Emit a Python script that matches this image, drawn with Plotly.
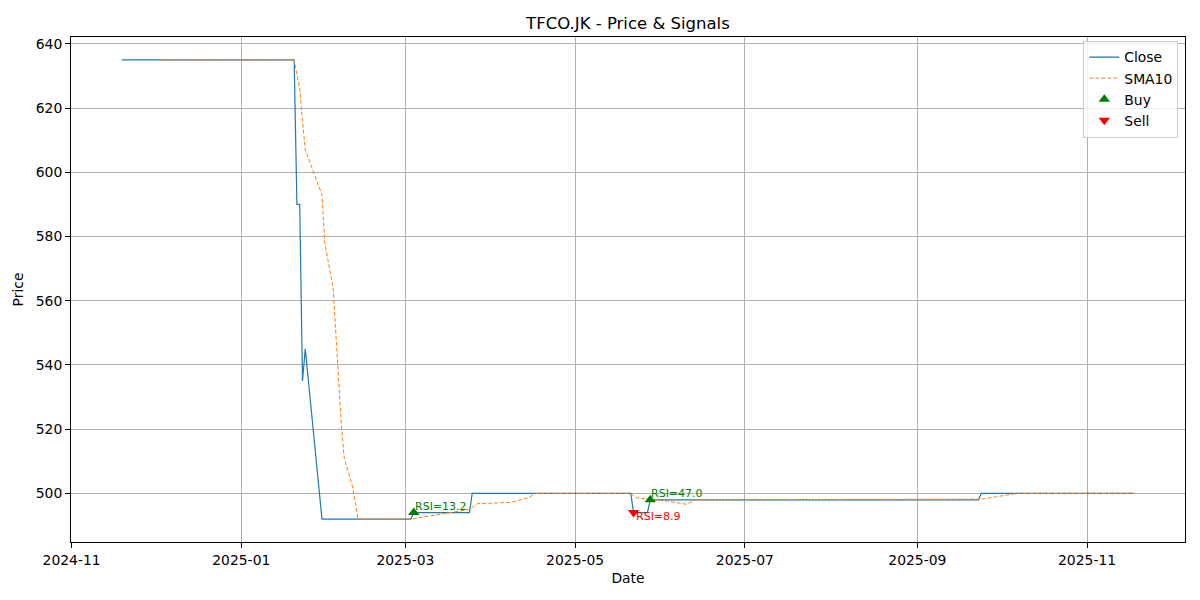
import plotly.graph_objects as go

# Close price, vertices where the price changes (flat stretches in between)
close_dates = ["2024-11-19", "2025-01-20", "2025-01-21", "2025-01-22", "2025-01-23",
               "2025-01-24", "2025-01-30", "2025-03-03", "2025-03-04", "2025-03-24",
               "2025-03-25", "2025-05-21", "2025-05-22", "2025-05-27", "2025-05-28",
               "2025-09-23", "2025-09-24", "2025-11-18"]
close_vals = [635, 635, 590, 590, 535, 545, 492, 492, 494, 494,
              500, 500, 494, 494, 498, 498, 500, 500]

# SMA10
sma_dates = ["2024-12-03", "2025-01-20", "2025-01-21", "2025-01-22", "2025-01-23",
             "2025-01-24", "2025-01-30", "2025-01-31", "2025-02-03", "2025-02-04",
             "2025-02-05", "2025-02-06", "2025-02-07", "2025-02-10", "2025-02-11",
             "2025-02-12", "2025-03-03", "2025-03-17", "2025-03-24", "2025-03-26",
             "2025-03-27", "2025-04-08", "2025-04-10", "2025-04-14", "2025-04-17",
             "2025-05-21", "2025-05-22", "2025-05-23", "2025-05-27", "2025-06-03",
             "2025-06-10", "2025-06-13", "2025-06-16", "2025-09-23", "2025-09-24",
             "2025-10-07", "2025-11-18"]
sma_vals = [635, 635, 630.5, 626, 616, 607, 593, 578, 564, 550,
            535, 521, 511, 502, 497, 492, 492, 494, 495, 496.3,
            496.8, 497.2, 497.6, 498.6, 500, 500, 499.3, 498.7, 498.2, 497.6,
            496.6, 497.9, 498, 498, 498.2, 500, 500]

# Signals
buy_dates = ["2025-03-04", "2025-05-28"]
buy_prices = [494, 498]
buy_rsi = [13.2, 47.0]

sell_dates = ["2025-05-22"]
sell_prices = [494]
sell_rsi = [8.9]

FONT = "DejaVu Sans"

fig = go.Figure()

fig.add_trace(go.Scatter(
    x=close_dates, y=close_vals, mode="lines", name="Close",
    line=dict(color="#1f77b4", width=1.2)
))
fig.add_trace(go.Scatter(
    x=sma_dates, y=sma_vals, mode="lines", name="SMA10",
    line=dict(color="#ff7f0e", width=1, dash="4px,2px")
))
fig.add_trace(go.Scatter(
    x=buy_dates, y=buy_prices, mode="markers", name="Buy",
    marker=dict(symbol="triangle-up", color="green", size=10)
))
fig.add_trace(go.Scatter(
    x=sell_dates, y=sell_prices, mode="markers", name="Sell",
    marker=dict(symbol="triangle-down", color="red", size=10)
))

for d, p, r in zip(buy_dates, buy_prices, buy_rsi):
    fig.add_annotation(x=d, y=p, text=f"RSI={r:.1f}", showarrow=False,
                       xanchor="left", yanchor="bottom", xshift=-1, yshift=-2,
                       font=dict(family=FONT, size=11, color="green"))
for d, p, r in zip(sell_dates, sell_prices, sell_rsi):
    fig.add_annotation(x=d, y=p, text=f"RSI={r:.1f}", showarrow=False,
                       xanchor="left", yanchor="top", xshift=0, yshift=5,
                       font=dict(family=FONT, size=11, color="red"))

axis_style = dict(
    showline=True, linecolor="black", linewidth=1, mirror=True,
    ticks="outside", ticklen=5, tickcolor="black",
    showgrid=True, gridcolor="#b0b0b0", gridwidth=0.8,
    zeroline=False, automargin=False,
    tickfont=dict(family=FONT, size=13.9, color="black"),
)

fig.update_xaxes(
    **axis_style,
    type="date", range=["2024-10-31 19:00", "2025-12-06 05:00"],
    tick0="2024-11-01", dtick="M2", tickformat="%Y-%m",
    title=dict(text="Date", font=dict(family=FONT, size=13.9, color="black"), standoff=6),
)
fig.update_yaxes(
    **axis_style,
    range=[484.85, 642.15], dtick=20, tick0=500,
    title=dict(text="Price", font=dict(family=FONT, size=13.9, color="black"), standoff=8),
)

fig.update_layout(
    width=1200, height=600,
    paper_bgcolor="white", plot_bgcolor="white",
    margin=dict(l=71, r=15, t=37, b=58),
    title=dict(text="TFCO.JK - Price & Signals", x=0.5233, xanchor="center",
               y=0.962, yanchor="middle",
               font=dict(family=FONT, size=16.5, color="black")),
    font=dict(family=FONT, size=13.9, color="black"),
    legend=dict(x=0.994, y=0.993, xanchor="right", yanchor="top",
                bgcolor="rgba(255,255,255,0.8)", bordercolor="#cccccc", borderwidth=1,
                font=dict(family=FONT, size=13.9), tracegroupgap=0),
    showlegend=True,
)

fig.write_html("out.html", config={"displayModeBar": False},
               post_script="document.body.style.margin='0';")
